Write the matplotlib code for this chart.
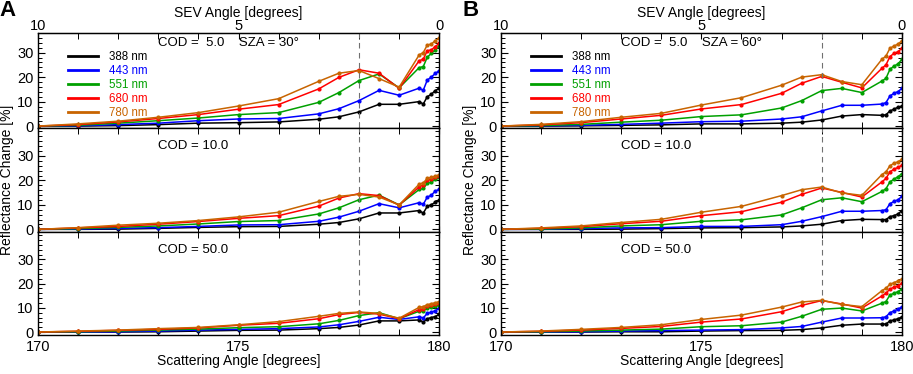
import matplotlib
matplotlib.use("Agg")
import matplotlib.pyplot as plt
from matplotlib.ticker import MultipleLocator, FixedLocator

plt.rcParams['font.family'] = ['Liberation Sans', 'DejaVu Sans']

# scattering angles of the simulated points
scat = [170, 171, 172, 173, 174, 175, 176, 177, 177.5, 178, 178.5, 179,
        179.5, 179.6, 179.7, 179.8, 179.9, 180]

wavelengths = ['388 nm', '443 nm', '551 nm', '680 nm', '780 nm']
colors = ['black', '#0000ff', '#00a000', '#ff0000', '#c86400']
cods = [5.0, 10.0, 50.0]

# panel A, SZA = 30
a_cod5_388 = [0, 0, 0.2, 0.6, 1.2, 1.4, 1.7, 2.8, 3.8, 5.8, 8.9, 8.9, 10.0, 9.0, 12.0, 13.0, 14.5, 15.5]
a_cod5_443 = [0, 0.1, 0.6, 1.2, 2.2, 2.9, 3.1, 5.0, 7.1, 10.4, 14.6, 12.6, 15.5, 14.6, 18.8, 20.0, 21.5, 22.7]
a_cod5_551 = [0, 0.3, 1.2, 2.2, 3.3, 4.7, 5.5, 9.7, 13.7, 18.6, 21.3, 15.6, 23.9, 24.3, 28.1, 29.7, 31.1, 32.9]
a_cod5_680 = [0, 0.6, 1.7, 3.1, 4.7, 6.9, 8.8, 15.2, 19.9, 23.0, 21.6, 15.4, 26.7, 27.3, 30.8, 31.1, 32.5, 33.8]
a_cod5_780 = [0, 0.9, 2.0, 3.6, 5.5, 8.2, 11.2, 18.3, 21.6, 22.7, 19.4, 15.9, 29.1, 30.0, 33.1, 33.5, 34.9, 35.9]

a_cod10_388 = [0, 0, 0.1, 0.4, 0.8, 1.1, 1.2, 2.1, 2.8, 4.3, 6.7, 6.7, 7.7, 6.6, 9.4, 10.1, 11.0, 11.9]
a_cod10_443 = [0, 0.1, 0.4, 0.7, 1.2, 1.8, 1.9, 3.3, 5.0, 7.4, 10.5, 8.8, 10.9, 10.2, 13.2, 13.9, 15.7, 16.3]
a_cod10_551 = [0, 0.3, 0.8, 1.4, 2.2, 3.2, 3.6, 6.3, 8.8, 12.1, 14.0, 10.0, 16.3, 16.7, 18.8, 19.4, 20.4, 21.2]
a_cod10_680 = [0, 0.6, 1.2, 2.1, 3.2, 4.5, 5.6, 9.5, 12.8, 14.6, 13.8, 9.9, 17.4, 18.1, 20.1, 20.4, 21.2, 21.8]
a_cod10_780 = [0, 0.7, 1.7, 2.5, 3.6, 5.1, 7.0, 11.4, 13.5, 14.3, 13.2, 10.0, 18.5, 19.0, 20.8, 21.2, 21.8, 22.3]

a_cod50_388 = [0, 0, 0, 0.1, 0.4, 0.7, 0.8, 1.4, 1.9, 2.9, 4.6, 4.6, 5.0, 4.1, 5.5, 6.0, 6.4, 7.4]
a_cod50_443 = [0, 0, 0.1, 0.4, 0.8, 1.1, 1.4, 2.1, 3.0, 4.4, 6.1, 5.2, 6.3, 5.8, 7.7, 8.2, 8.8, 9.8]
a_cod50_551 = [0, 0.1, 0.4, 0.8, 1.2, 1.8, 2.2, 3.4, 4.8, 6.8, 8.0, 5.5, 8.6, 8.8, 9.8, 10.2, 10.6, 11.0]
a_cod50_680 = [0, 0.3, 0.7, 1.1, 1.7, 2.8, 3.6, 5.5, 7.2, 8.1, 7.4, 5.5, 9.3, 9.6, 10.6, 11.0, 11.5, 11.9]
a_cod50_780 = [0, 0.4, 0.8, 1.4, 1.9, 3.0, 4.3, 6.5, 7.7, 8.3, 7.7, 5.7, 10.2, 10.5, 11.3, 11.7, 12.1, 12.6]

# panel B, SZA = 60
b_cod5_388 = [0, 0, 0.1, 0.3, 0.5, 0.9, 0.9, 1.2, 1.6, 2.5, 4.1, 4.7, 4.4, 4.6, 6.2, 6.9, 7.7, 8.2]
b_cod5_443 = [0, 0.1, 0.3, 0.7, 1.2, 1.8, 2.0, 2.9, 3.8, 6.2, 8.5, 8.5, 9.0, 9.6, 12.3, 13.4, 14.1, 15.4]
b_cod5_551 = [0, 0.2, 0.7, 1.6, 2.4, 3.9, 4.6, 7.4, 10.4, 14.5, 15.4, 13.7, 18.4, 19.5, 23.2, 24.5, 25.4, 27.3]
b_cod5_680 = [0, 0.5, 1.4, 2.9, 4.4, 7.0, 8.8, 13.4, 17.5, 20.3, 17.9, 15.6, 23.6, 25.0, 28.4, 29.7, 30.4, 31.8]
b_cod5_780 = [0, 0.7, 1.8, 3.6, 5.2, 8.6, 11.6, 16.7, 20.0, 21.0, 18.2, 16.9, 27.3, 28.6, 31.8, 32.7, 33.5, 34.9]

b_cod10_388 = [0, 0, 0, 0.1, 0.3, 0.6, 0.7, 1.0, 1.4, 2.1, 3.6, 4.1, 4.0, 4.0, 5.2, 5.6, 6.3, 7.7]
b_cod10_443 = [0, 0, 0.3, 0.6, 0.7, 1.2, 1.2, 1.9, 3.3, 5.2, 7.4, 7.4, 7.7, 8.0, 10.5, 11.4, 12.1, 13.5]
b_cod10_551 = [0, 0.1, 0.6, 1.4, 1.9, 3.3, 3.9, 5.9, 8.8, 12.1, 12.9, 11.3, 15.5, 16.6, 19.4, 20.5, 21.5, 22.8]
b_cod10_680 = [0, 0.4, 1.1, 2.3, 3.3, 5.6, 7.2, 11.1, 14.3, 16.9, 15.1, 13.2, 19.4, 20.8, 23.5, 24.6, 25.3, 26.3]
b_cod10_780 = [0, 0.6, 1.4, 2.8, 4.1, 7.0, 9.4, 13.8, 16.2, 17.3, 14.9, 13.9, 22.4, 23.5, 26.0, 27.0, 27.6, 28.7]

b_cod50_388 = [0, 0, 0, 0.1, 0.1, 0.4, 0.6, 0.7, 1.0, 1.7, 2.8, 3.3, 3.3, 3.3, 4.6, 5.0, 5.5, 6.3]
b_cod50_443 = [0, 0, 0.1, 0.4, 0.6, 0.8, 1.0, 1.7, 2.3, 4.1, 5.8, 5.8, 5.9, 6.3, 8.0, 8.7, 9.4, 10.5]
b_cod50_551 = [0, 0.1, 0.4, 0.8, 1.2, 2.2, 2.6, 4.1, 6.5, 9.4, 9.9, 8.7, 11.9, 12.6, 15.3, 16.0, 16.7, 17.8]
b_cod50_680 = [0, 0.3, 0.8, 1.5, 2.3, 4.1, 5.4, 8.4, 11.0, 13.0, 11.6, 9.9, 14.9, 16.0, 17.8, 18.5, 19.2, 20.1]
b_cod50_780 = [0, 0.4, 1.1, 1.9, 3.0, 5.2, 7.0, 10.3, 12.4, 13.1, 11.4, 10.5, 17.1, 18.1, 19.7, 20.4, 21.1, 21.9]

panel_a = [
    [a_cod5_388, a_cod5_443, a_cod5_551, a_cod5_680, a_cod5_780],
    [a_cod10_388, a_cod10_443, a_cod10_551, a_cod10_680, a_cod10_780],
    [a_cod50_388, a_cod50_443, a_cod50_551, a_cod50_680, a_cod50_780],
]
panel_b = [
    [b_cod5_388, b_cod5_443, b_cod5_551, b_cod5_680, b_cod5_780],
    [b_cod10_388, b_cod10_443, b_cod10_551, b_cod10_680, b_cod10_780],
    [b_cod50_388, b_cod50_443, b_cod50_551, b_cod50_680, b_cod50_780],
]

W, H = 913, 374
fig = plt.figure(figsize=(W / 100, H / 100), dpi=100)

# row boxes in pixels: (top, bottom)
rows_px = [(33.3, 128.3), (128.3, 232.3), (232.3, 334.7)]
ylims = [(-0.9, 37.9), (-1.2, 41.3), (-1.1, 41.2)]
cod_text_y = [0.90, 0.83, 0.83]


def make_panel(x0_px, x1_px, data, sza, letter):
    axes = []
    for i, (top, bot) in enumerate(rows_px):
        ax = fig.add_axes([x0_px / W, 1 - bot / H, (x1_px - x0_px) / W, (bot - top) / H])
        for series, col, lab in zip(data[i], colors, wavelengths):
            ax.plot(scat, series, color=col, lw=1.1, marker='o', ms=2.0, label=lab)
        ax.axvline(178, color='#707070', lw=0.8, ls=(0, (5, 4)))
        ax.set_xlim(170, 180)
        ax.set_ylim(*ylims[i])
        ax.xaxis.set_major_locator(FixedLocator([170, 175, 180]))
        ax.xaxis.set_minor_locator(MultipleLocator(1))
        ax.yaxis.set_major_locator(FixedLocator([0, 10, 20, 30]))
        ax.yaxis.set_minor_locator(MultipleLocator(2))
        ax.tick_params(which='both', direction='in', top=True, right=True, labelsize=10.5)
        ax.tick_params(which='major', length=5, width=0.8)
        ax.tick_params(which='minor', length=3, width=0.7)
        ax.tick_params(axis='x', which='both', length=4)
        ax.tick_params(axis='y', pad=3)
        for s in ax.spines.values():
            s.set_linewidth(1.0)
        if i < 2:
            ax.set_xticklabels([])
        if i == 0:
            ax.text(0.3, cod_text_y[i], 'COD =  %.1f    SZA = %d°' % (cods[i], sza),
                    transform=ax.transAxes, fontsize=9.5, va='center', ha='left')
            ax.legend(loc='upper left', bbox_to_anchor=(0.062, 0.87), frameon=False,
                      fontsize=8.3, handlelength=2.6, handletextpad=0.9,
                      labelspacing=0.16, labelcolor='linecolor', borderpad=0)
            for h in ax.get_legend().get_lines():
                h.set_marker('')
                h.set_linewidth(2.0)
            sec = ax.secondary_xaxis('top', functions=(lambda v: 180 - v, lambda v: 180 - v))
            sec.xaxis.set_major_locator(FixedLocator([10, 5, 0]))
            sec.tick_params(direction='in', length=0, labelsize=10.5, pad=0)
            sec.set_xlabel('SEV Angle [degrees]', fontsize=10, labelpad=2)
        else:
            ax.text(0.3, cod_text_y[i], 'COD = %.1f' % cods[i], transform=ax.transAxes,
                    fontsize=9.5, va='center', ha='left')
        axes.append(ax)
    axes[2].set_xlabel('Scattering Angle [degrees]', fontsize=10, labelpad=0)
    axes[1].set_ylabel('Reflectance Change [%]', fontsize=10, labelpad=2)
    fig.text((x0_px - 38) / W, 1 - 10 / H, letter, fontsize=16, fontweight='bold',
             va='center', ha='left')
    return axes


make_panel(37.7, 439.3, panel_a, 30, 'A')
make_panel(500.7, 902.0, panel_b, 60, 'B')

fig.savefig('out.png', dpi=100)
